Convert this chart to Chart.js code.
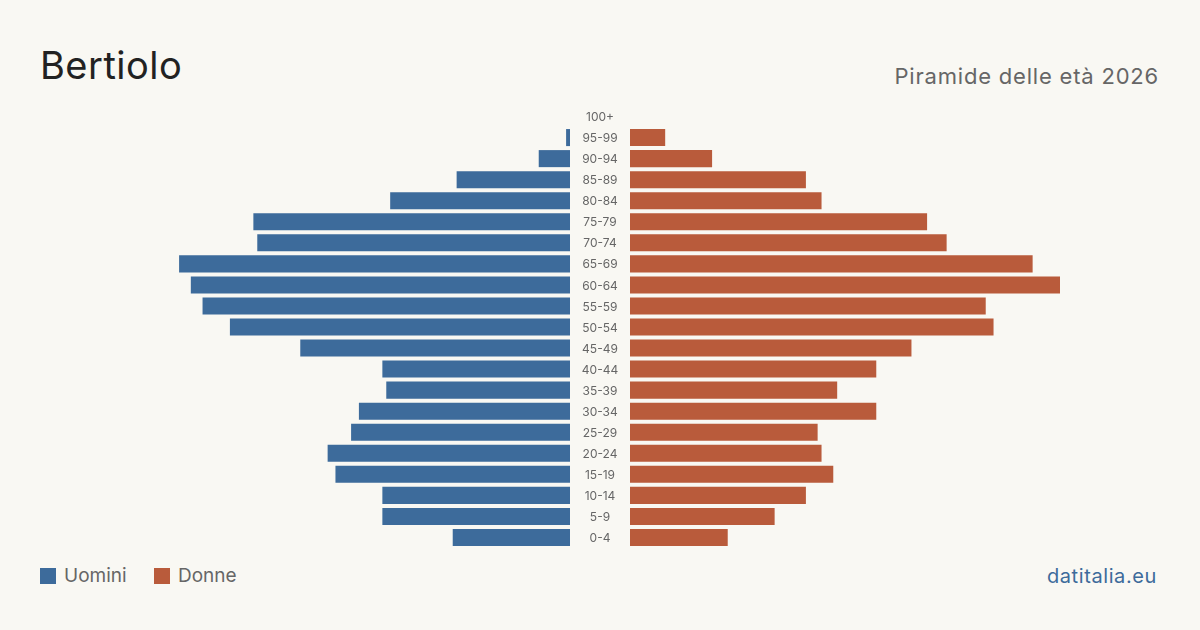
<!DOCTYPE html>
<html>
<head>
<meta charset="utf-8">
<script src="https://cdn.jsdelivr.net/npm/chart.js@4/dist/chart.umd.min.js"></script>
<style>
  body { margin: 0; width: 1200px; height: 630px; background: #f9f8f3; font-family: Inter, "Noto Sans", sans-serif; position: relative; overflow: hidden; }
  #title { position: absolute; left: 40px; top: 40px; font-size: 38px; color: #222; line-height: 50px; letter-spacing: 0.5px; }
  #subtitle { position: absolute; right: 41px; top: 62px; font-size: 22px; color: #666; line-height: 28px; letter-spacing: 0.8px; }
  .box { position: absolute; top: 106px; height: 442px; }
  #leftBox { left: 140px; width: 430px; }
  #rightBox { left: 570px; width: 490px; }
  #legend { position: absolute; left: 40px; top: 564px; font-size: 19px; color: #666; line-height: 24px; }
  #legend span.sq { display: inline-block; width: 16px; height: 16px; vertical-align: -2px; margin-right: 8px; }
  #legend span.item { margin-right: 22px; }
  #source { position: absolute; right: 43px; top: 563px; font-size: 20px; color: #3d6b9b; line-height: 26px; letter-spacing: 0.6px; }
</style>
</head>
<body>
<div id="title">Bertiolo</div>
<div id="subtitle">Piramide delle età 2026</div>
<div class="box" id="leftBox"><canvas id="menChart"></canvas></div>
<div class="box" id="rightBox"><canvas id="womenChart"></canvas></div>
<div id="legend">
  <span class="item"><span class="sq" style="background:#3d6b9b"></span>Uomini</span>
  <span class="item"><span class="sq" style="background:#b95b3b"></span>Donne</span>
</div>
<div id="source">datitalia.eu</div>
<script>
const ageGroups = ['100+', '95-99', '90-94', '85-89', '80-84', '75-79', '70-74', '65-69', '60-64', '55-59',
  '50-54', '45-49', '40-44', '35-39', '30-34', '25-29', '20-24', '15-19', '10-14', '5-9', '0-4'];
const men = [0, 1, 8, 29, 46, 81, 80, 100, 97, 94, 87, 69, 48, 47, 54, 56, 62, 60, 48, 48, 30];
const women = [0, 9, 21, 45, 49, 76, 81, 103, 110, 91, 93, 72, 63, 53, 63, 48, 49, 52, 45, 37, 25];

const maxValue = Math.max(...men, ...women);
const blue = '#3d6b9b';
const orange = '#b95b3b';

Chart.defaults.font.family = 'Inter, "Noto Sans", sans-serif';
Chart.defaults.animation = false;

// age labels drawn in the gap, centred, using the y scale of the chart
const centerLabels = {
  id: 'centerLabels',
  afterDraw(chart) {
    const ctx = chart.ctx;
    const yScale = chart.scales.y;
    ctx.save();
    ctx.font = '12px Inter, "Noto Sans", sans-serif';
    ctx.fillStyle = '#666';
    ctx.textAlign = 'center';
    ctx.textBaseline = 'middle';
    ageGroups.forEach((lbl, i) => {
      ctx.fillText(lbl, chart.chartArea.left - 30, yScale.getPixelForValue(i) + 1);
    });
    ctx.restore();
  }
};

function sideOptions(reverse, gap) {
  return {
    indexAxis: 'y',
    responsive: true,
    maintainAspectRatio: false,
    layout: { padding: { left: gap, right: 0, top: 0, bottom: 0 } },
    plugins: { legend: { display: false }, tooltip: { enabled: false } },
    scales: {
      x: { display: false, min: 0, max: maxValue, reverse: reverse },
      y: { display: false }
    }
  };
}

new Chart(document.getElementById('menChart').getContext('2d'), {
  type: 'bar',
  data: {
    labels: ageGroups,
    datasets: [{ label: 'Uomini', data: men, backgroundColor: blue, barPercentage: 0.81, categoryPercentage: 1 }]
  },
  options: sideOptions(true, 0)
});

new Chart(document.getElementById('womenChart').getContext('2d'), {
  type: 'bar',
  data: {
    labels: ageGroups,
    datasets: [{ label: 'Donne', data: women, backgroundColor: orange, barPercentage: 0.81, categoryPercentage: 1 }]
  },
  options: sideOptions(false, 60),
  plugins: [centerLabels]
});
</script>
</body>
</html>
